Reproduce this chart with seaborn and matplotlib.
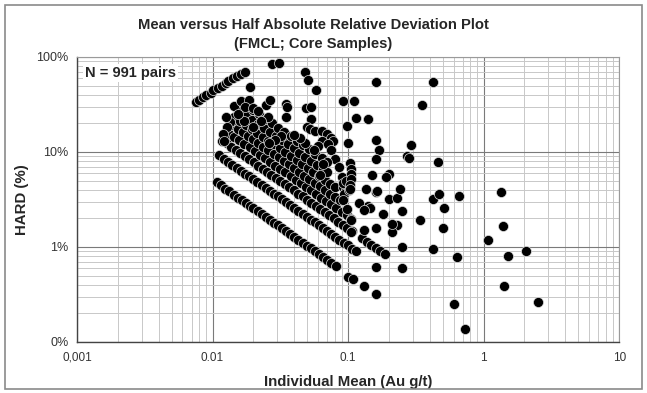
import numpy as np
import pandas as pd
import matplotlib
matplotlib.use("Agg")
import matplotlib.pyplot as plt
import matplotlib.ticker as mticker
from matplotlib.patches import Rectangle
import seaborn as sns

# Data (Individual mean in Au g/t, HARD in %)
arc_mean = [0.0075, 0.0079, 0.0085, 0.0090, 0.0098, 0.0101, 0.0109, 0.0117, 0.0125,
            0.0131, 0.0141, 0.0151, 0.0162, 0.0174]
arc_hard = [33.3, 35.2, 37.6, 39.6, 42.0, 44.9, 46.9, 49.7, 52.8, 56.1, 59.7, 63.3, 66.9, 69.7]

band1_mean = [0.0107, 0.0115, 0.0124, 0.0133, 0.0143, 0.0154, 0.0165, 0.0177, 0.0190, 0.0200,
              0.0215, 0.0230, 0.0246, 0.0264, 0.0283, 0.0303, 0.0325, 0.0349, 0.0374, 0.0400,
              0.0430, 0.0461, 0.0494, 0.0530, 0.0568, 0.0609, 0.0653, 0.0700, 0.0750, 0.0810,
              0.100, 0.108, 0.131, 0.160]
band1_hard = [4.8, 4.45, 4.1, 3.85, 3.55, 3.3, 3.1, 2.9, 2.7, 2.55,
              2.38, 2.22, 2.08, 1.94, 1.8, 1.69, 1.57, 1.46, 1.37, 1.28,
              1.19, 1.11, 1.03, 0.965, 0.9, 0.84, 0.78, 0.73, 0.68, 0.63,
              0.48, 0.46, 0.39, 0.32]

band2_mean = [0.0112, 0.0121, 0.0130, 0.0140, 0.0151, 0.0162, 0.0174, 0.0186, 0.0200, 0.0214,
              0.0230, 0.0246, 0.0264, 0.0283, 0.0303, 0.0325, 0.0349, 0.0374, 0.0401, 0.0430,
              0.0461, 0.0494, 0.0530, 0.0568, 0.0609, 0.0653, 0.0700, 0.0751, 0.0806, 0.0864,
              0.0926, 0.0993, 0.107, 0.114]
band2_hard = [9.2, 8.5, 7.9, 7.35, 6.8, 6.35, 5.9, 5.55, 5.15, 4.8,
              4.48, 4.18, 3.9, 3.64, 3.4, 3.17, 2.95, 2.76, 2.57, 2.4,
              2.23, 2.08, 1.94, 1.81, 1.69, 1.58, 1.47, 1.37, 1.28, 1.19,
              1.11, 1.04, 0.96, 0.9]

band3_mean = [0.0118, 0.0127, 0.0137, 0.0148, 0.0160, 0.0173, 0.0187, 0.0201, 0.0217, 0.0234,
              0.0252, 0.0272, 0.0293, 0.0316, 0.0341, 0.0368, 0.0397, 0.0428, 0.0462, 0.0498,
              0.0537, 0.0579, 0.0625, 0.0674, 0.0727, 0.0784, 0.0845, 0.0912, 0.0984, 0.106,
              0.127, 0.137, 0.148, 0.160, 0.172, 0.186]
band3_hard = [13.2, 12.3, 11.4, 10.5, 9.75, 9.0, 8.35, 7.75, 7.2, 6.65,
              6.2, 5.75, 5.3, 4.95, 4.6, 4.25, 3.95, 3.65, 3.4, 3.15,
              2.9, 2.7, 2.5, 2.32, 2.15, 2.0, 1.85, 1.72, 1.59, 1.48,
              1.23, 1.14, 1.05, 0.98, 0.91, 0.84]

band4_mean = [0.0133, 0.0145, 0.0158, 0.0172, 0.0188, 0.0205, 0.0224, 0.0244, 0.0266, 0.0290,
              0.0316, 0.0345, 0.0376, 0.0410, 0.0447, 0.0488, 0.0532, 0.0580, 0.0633, 0.0690,
              0.0753, 0.0821, 0.0896, 0.0977, 0.105]
band4_hard = [15.6, 14.5, 13.3, 12.2, 11.2, 10.2, 9.4, 8.6, 7.9, 7.2,
              6.65, 6.1, 5.6, 5.1, 4.7, 4.3, 3.95, 3.6, 3.3, 3.05,
              2.8, 2.55, 2.35, 2.15, 1.95]

band5_mean = [0.0140, 0.0153, 0.0167, 0.0182, 0.0199, 0.0217, 0.0237, 0.0258, 0.0282, 0.0308,
              0.0336, 0.0366, 0.0400, 0.0436, 0.0476, 0.0519, 0.0566, 0.0618, 0.0674, 0.0735,
              0.0802, 0.0875]
band5_hard = [19.3, 17.6, 16.2, 14.8, 13.6, 12.4, 11.4, 10.5, 9.6, 8.8,
              8.0, 7.4, 6.75, 6.2, 5.65, 5.2, 4.75, 4.35, 4.0, 3.65,
              3.35, 3.1]

band6_mean = [0.0145, 0.0160, 0.0176, 0.0194, 0.0213, 0.0235, 0.0258, 0.0284, 0.0313, 0.0344,
              0.0379, 0.0417, 0.0459, 0.0505, 0.0555, 0.0611, 0.0672, 0.0740, 0.0800]
band6_hard = [23.4, 21.2, 19.3, 17.5, 16.0, 14.5, 13.2, 12.0, 10.9, 9.9,
              9.0, 8.15, 7.4, 6.75, 6.1, 5.55, 5.05, 4.6, 4.25]

band7_mean = [0.0160, 0.0177, 0.0196, 0.0217, 0.0240, 0.0265, 0.0293, 0.0324, 0.0358, 0.0396,
              0.0438, 0.0484, 0.0535, 0.0592, 0.0654, 0.0700]
band7_hard = [26.8, 24.3, 21.9, 19.8, 17.9, 16.2, 14.7, 13.3, 12.0, 10.9,
              9.8, 8.9, 8.0, 7.25, 6.6, 6.15]

band8_mean = [0.0180, 0.0200, 0.0222, 0.0247, 0.0274, 0.0305, 0.0339, 0.0376, 0.0418, 0.0465,
              0.0516, 0.0574, 0.0638]
band8_hard = [30.5, 27.5, 24.8, 22.3, 20.1, 18.0, 16.2, 14.6, 13.2, 11.8, 10.7, 9.6, 8.6]

cloud_mean = [0.0143, 0.0162, 0.0186, 0.0174, 0.0200, 0.0215, 0.0246, 0.0264, 0.0349, 0.0355,
              0.0190, 0.0487, 0.0530, 0.0349, 0.0530, 0.0257, 0.0228, 0.0500, 0.0520, 0.0570,
              0.0640, 0.0700, 0.0750, 0.0780, 0.0640, 0.0600, 0.0560, 0.0710, 0.0480, 0.0440,
              0.0400, 0.0320, 0.0290, 0.0260, 0.0200, 0.0170, 0.0155, 0.0135, 0.0128, 0.0125,
              0.0120, 0.0122, 0.0750, 0.0800, 0.0850, 0.0900, 0.0920, 0.0970, 0.0940, 0.0700,
              0.0650, 0.0620, 0.0920, 0.0970, 0.1010, 0.0920, 0.0990, 0.1050, 0.1050,
              0.104, 0.105, 0.105, 0.105, 0.104, 0.104, 0.100, 0.099, 0.092, 0.111, 0.114, 0.141]
cloud_hard = [30.7, 34.0, 35.2, 29.5, 29.0, 27.3, 31.5, 35.5, 32.0, 29.5,
              47.8, 29.0, 29.5, 23.2, 22.3, 23.2, 21.0, 18.5, 17.3, 16.5,
              16.8, 15.5, 14.0, 13.0, 13.2, 11.5, 10.4, 12.2, 12.5, 14.0,
              15.0, 14.6, 13.5, 12.3, 18.5, 21.0, 25.0, 20.5, 18.3, 23.5,
              15.4, 13.1, 10.4, 8.5, 7.0, 5.5, 4.3, 4.0, 3.6, 7.8,
              7.5, 5.7, 4.67, 5.0, 3.97, 3.12, 2.5, 1.93, 1.45,
              7.6, 6.6, 5.9, 5.2, 4.5, 4.1, 12.4, 18.6, 34.0, 34.0, 22.8, 22.4]

outer_mean = [0.0274, 0.031, 0.048, 0.051, 0.058, 0.162, 0.42, 0.35, 0.16, 0.17,
              0.16, 0.29, 0.27, 0.28, 0.46, 0.42, 0.47, 0.51, 0.50, 0.42,
              0.66, 0.64, 0.60, 0.73, 1.08, 1.35, 1.40, 1.42, 1.52, 2.05,
              2.5, 0.34, 0.25, 0.25, 0.25, 0.23, 0.21, 0.21, 0.20, 0.23,
              0.24, 0.20, 0.19, 0.16, 0.163, 0.135, 0.15, 0.14, 0.145, 0.12,
              0.13, 0.13, 0.16, 0.18, 0.16]
outer_hard = [85.0, 87.0, 70.0, 57.4, 45.4, 53.9, 54.6, 31.4, 13.5, 10.5,
              8.4, 11.9, 9.0, 8.7, 7.8, 3.2, 3.6, 2.6, 1.6, 0.94,
              3.4, 0.78, 0.25, 0.137, 1.17, 3.8, 1.66, 0.39, 0.80, 0.91,
              0.26, 1.91, 2.4, 0.99, 0.6, 1.72, 1.43, 1.75, 3.2, 3.3,
              4.1, 5.9, 5.5, 3.8, 3.9, 4.1, 5.7, 2.7, 2.6, 2.9,
              2.46, 1.5, 1.6, 2.2, 0.62]

x_ticks = [0.001, 0.01, 0.1, 1, 10]
x_tick_labels = ["0,001", "0.01", "0.1", "1", "10"]
y_ticks = [0.1, 1, 10, 100]
y_tick_labels = ["0%", "1%", "10%", "100%"]

df = pd.DataFrame({
    "mean": arc_mean + band1_mean + band2_mean + band3_mean + band4_mean + band5_mean
            + band6_mean + band7_mean + band8_mean + cloud_mean + outer_mean,
    "hard": arc_hard + band1_hard + band2_hard + band3_hard + band4_hard + band5_hard
            + band6_hard + band7_hard + band8_hard + cloud_hard + outer_hard,
})

sns.set_style("white")
plt.rcParams["font.family"] = ["Liberation Sans", "DejaVu Sans"]

fig = plt.figure(figsize=(6.47, 3.93), dpi=100)
ax = fig.add_axes([0.119, 0.130, 0.838, 0.725])

sns.scatterplot(data=df, x="mean", y="hard", ax=ax, color="black", s=52,
                edgecolor="#dddddd", linewidth=0.5, zorder=3, legend=False)

ax.set_xscale("log")
ax.set_yscale("log")
ax.set_xlim(0.001, 10)
ax.set_ylim(0.1, 100)

ax.xaxis.set_major_locator(mticker.FixedLocator(x_ticks))
ax.yaxis.set_major_locator(mticker.FixedLocator(y_ticks))
ax.set_xticklabels(x_tick_labels)
ax.set_yticklabels(y_tick_labels)
ax.xaxis.set_minor_locator(mticker.LogLocator(base=10, subs=range(2, 10)))
ax.yaxis.set_minor_locator(mticker.LogLocator(base=10, subs=range(2, 10)))
ax.xaxis.set_minor_formatter(mticker.NullFormatter())
ax.yaxis.set_minor_formatter(mticker.NullFormatter())

ax.grid(which="major", color="#7a7a7a", linewidth=0.8, zorder=0)
ax.grid(which="minor", color="#c8c8c8", linewidth=0.7, zorder=0)
ax.set_axisbelow(True)

ax.tick_params(axis="x", which="major", direction="out", length=4, width=0.8,
               color="#555555", labelsize=8.5, labelcolor="#333333", pad=3)
ax.tick_params(axis="y", which="major", direction="out", length=4, width=0.8,
               color="#555555", labelsize=9, labelcolor="#333333", pad=2)
ax.tick_params(axis="both", which="minor", length=0)
for side in ["left", "bottom"]:
    ax.spines[side].set_color("#444444")
    ax.spines[side].set_linewidth(1.0)
for side in ["top", "right"]:
    ax.spines[side].set_color("#9a9a9a")
    ax.spines[side].set_linewidth(0.8)

ax.set_xlabel("Individual Mean (Au g/t)", fontsize=10.8, fontweight="bold", labelpad=8)
ax.set_ylabel("HARD (%)", fontsize=10.8, fontweight="bold", labelpad=5)

ax.text(0.015, 0.945, "N = 991 pairs", transform=ax.transAxes, fontsize=10.5,
        fontweight="bold", ha="left", va="center",
        bbox=dict(facecolor="white", edgecolor="none", pad=1.5), zorder=4)

fig.text(0.484, 0.937, "Mean versus Half Absolute Relative Deviation Plot",
         ha="center", va="center", fontsize=10.6, fontweight="bold")
fig.text(0.484, 0.889, "(FMCL; Core Samples)",
         ha="center", va="center", fontsize=10.6, fontweight="bold")

fig.patches.append(Rectangle((0.007, 0.01), 0.986, 0.978, transform=fig.transFigure,
                             fill=False, edgecolor="#8a8a8a", linewidth=1.2))

fig.savefig("out.png", dpi=100)
